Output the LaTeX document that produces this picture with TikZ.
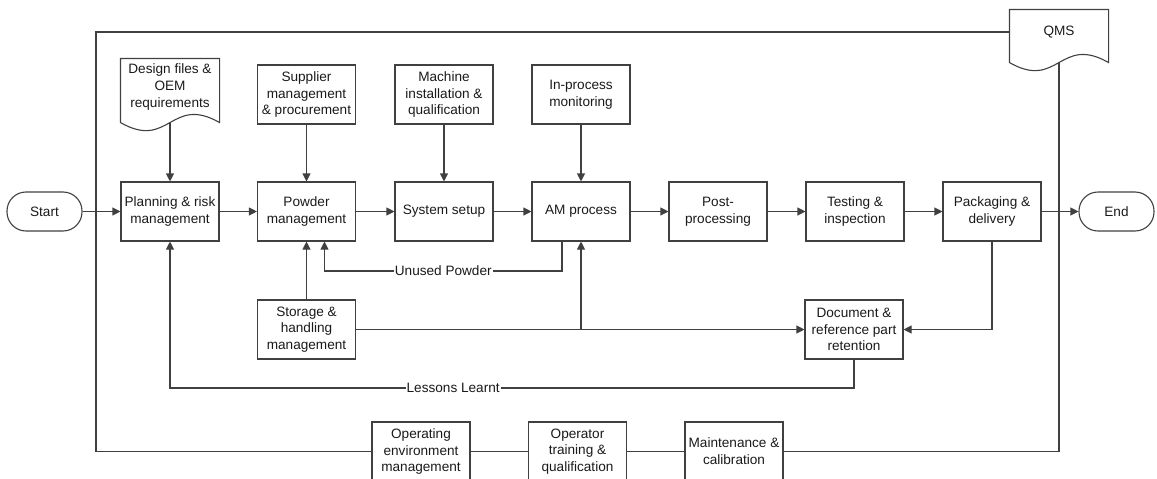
\documentclass[tikz,border=0pt]{standalone}
\usepackage{fontspec}
\setmainfont{Liberation Sans}
\usetikzlibrary{arrows.meta,calc}
\definecolor{ink}{HTML}{1A1A1A}
\definecolor{wire}{HTML}{404040}

\begin{document}
\begin{tikzpicture}[
  x=1pt, y=-1pt,
  font=\fontsize{13.6pt}{16.8pt}\selectfont,
  stepbox/.style={
    rectangle,
    draw=wire, line width=1.1pt,
    minimum width=98pt,
    minimum height=59pt,
    inner sep=2pt,
    align=center,
    text=ink
  },
  docbox/.style={
    stepbox,
    draw=none,
    text depth=10pt
  },
  terminal/.style={
    rectangle, rounded corners=19pt,
    draw=wire, line width=1.1pt,
    minimum width=75pt,
    minimum height=39pt,
    text=ink
  },
  flow/.style={
    -{Triangle[length=8pt,width=8pt]},
    draw=wire, line width=1.1pt
  },
  link/.style={
    draw=wire, line width=1.1pt
  },
  tag/.style={
    fill=white, inner sep=1pt, text=ink
  }
]

% Outline of a document shape: wavy bottom edge
\newcommand{\docoutline}[1]{%
  \draw[link] (#1.south west) -- (#1.north west) -- (#1.north east) -- (#1.south east)
    .. controls +(-49,-28) and +(49,28) .. (#1.south west) -- cycle;}

% Page size of the reference
\useasboundingbox (0,0) rectangle (1157,479);

% Start and end
\node[terminal] (start) at (44.5,211.5) {Start};
\node[terminal] (finish) at (1116.5,211.5) {End};

% Main process row
\node[stepbox] (plan) at (170,211.5) {Planning \& risk\\management};
\node[stepbox] (powder) at (306.5,211.5) {Powder\\management};
\node[stepbox] (setup) at (444,211.5) {System setup};
\node[stepbox] (amproc) at (581,211.5) {AM process};
\node[stepbox] (post) at (718,211.5) {Post-\\processing};
\node[stepbox] (testing) at (855,211.5) {Testing \&\\inspection};
\node[stepbox] (pack) at (992,211.5) {Packaging \&\\delivery};

% Inputs from above
\node[docbox, minimum height=63pt] (design) at (170,90.5) {Design files \&\\OEM\\requirements};
\docoutline{design}
\node[stepbox] (supplier) at (306.5,94.5) {Supplier\\management\\\& procurement};
\node[stepbox] (machine) at (444,94.5) {Machine\\installation \&\\qualification};
\node[stepbox] (monitor) at (581,94.5) {In-process\\monitoring};

% QMS document
\node[docbox, minimum height=52pt] (qms) at (1059,36) {QMS};
\docoutline{qms}

% Middle row
\node[stepbox] (storage) at (306.5,329.5) {Storage \&\\handling\\management};
\node[stepbox] (retain) at (854,329.5) {Document \&\\reference part\\retention};

% Bottom row on the QMS loop
\node[stepbox] (openv) at (421,451.5) {Operating\\environment\\management};
\node[stepbox] (training) at (577.5,451.5) {Operator\\training \&\\qualification};
\node[stepbox] (maint) at (734,451.5) {Maintenance \&\\calibration};

% Main flow
\foreach \a/\b in {start/plan, plan/powder, powder/setup, setup/amproc,
                   amproc/post, post/testing, testing/pack, pack/finish}
  \draw[flow] (\a.east) -- (\b.west);

% Inputs into the main row
\foreach \a/\b in {design/plan, supplier/powder, machine/setup, monitor/amproc}
  \draw[flow] (\a.south) -- (\b.north);

% Storage and retention
\draw[flow] (storage.north) -- (powder.south);
\draw[flow] (storage.east) -- (retain.west);
\draw[flow] (amproc.south |- storage.east) -- (amproc.south);
\draw[flow] (pack.south) |- (retain.east);

% Unused powder return
\coordinate (unusedY) at (0,271);
\coordinate (amout) at ([xshift=-19pt]amproc.south);
\coordinate (powin) at ([xshift=18pt]powder.south);
\draw[flow] (amout) -- (amout |- unusedY)
  -- node[tag] {Unused Powder} (powin |- unusedY) -- (powin);

% Lessons learnt feedback
\coordinate (lessonY) at (0,388);
\draw[flow] (retain.south) -- (retain.south |- lessonY)
  -- node[tag, pos=0.586] {Lessons Learnt} (plan.south |- lessonY) -- (plan.south);

% QMS loop
\coordinate (loopX) at (96,0);
\coordinate (qmsin) at ([yshift=4pt]qms.west);
\draw[link] (qmsin) -- (qmsin -| loopX) -- (openv.west -| loopX) -- (openv.west);
\draw[link] (openv.east) -- (training.west);
\draw[link] (training.east) -- (maint.west);
\draw[link] (maint.east) -| (qms.south);

\end{tikzpicture}
\end{document}
